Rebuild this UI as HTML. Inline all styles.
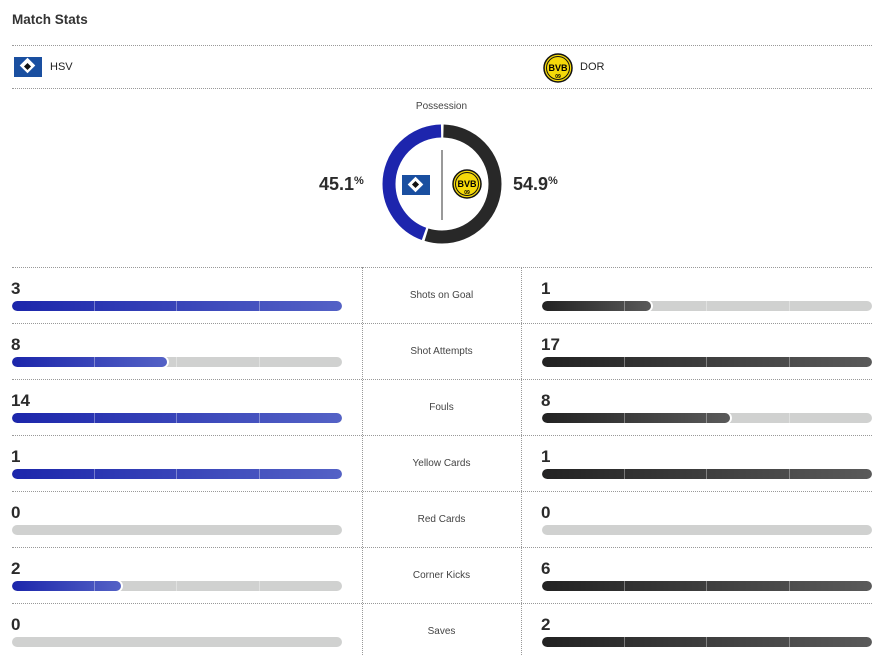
<!DOCTYPE html>
<html><head><meta charset="utf-8"><style>
body{margin:0;width:887px;height:655px;background:#fff;font-family:"Liberation Sans",Arial,sans-serif;color:#2b2b2b;position:relative;overflow:hidden}
.a{position:absolute}
.hl{position:absolute;height:0;border-top:1px dotted #999}
.vl{position:absolute;width:0;border-left:1px dotted #999}
.num{position:absolute;font-size:17px;font-weight:bold;color:#2b2b2b}
.lab{position:absolute;left:362px;width:159px;text-align:center;font-size:10px;color:#444}
.bar{position:absolute;width:330px;height:10px;border-radius:5px;background:#d0d1d0;overflow:hidden}
.fb{position:absolute;left:0;top:0;height:10px;border-radius:5px;background:linear-gradient(90deg,#1c26ab,#5462c6);box-shadow:1px 0 0 1px #fff}
.fd{position:absolute;left:0;top:0;height:10px;border-radius:5px;background:linear-gradient(90deg,#222,#5a5a5a);box-shadow:1px 0 0 1px #fff}
.full{box-shadow:none}
.seg{position:absolute;top:0;width:1px;height:10px;background:rgba(255,255,255,.35)}
</style></head><body>
<div class="a" style="left:12px;top:12px;font-size:13.5px;font-weight:bold;color:#333">Match Stats</div>
<div class="hl" style="left:12px;width:860px;top:45px"></div>
<div class="a" style="left:14px;top:57px;width:28px;height:20px;background:#1a4fa0"></div>
<div class="a" style="left:21px;top:60px;width:11px;height:11px;background:#fff;transform:rotate(45deg);left:22px"></div>
<div class="a" style="left:25px;top:64px;width:5px;height:5px;background:#111;transform:rotate(45deg)"></div>
<div class="a" style="left:50px;top:61px;font-size:11px;color:#222">HSV</div>
<svg class="a" style="left:543px;top:53px" width="30" height="30" viewBox="0 0 30 30"><circle cx="15" cy="15" r="14" fill="#f5d90a" stroke="#111" stroke-width="1.5"/><circle cx="15" cy="15" r="11.5" fill="none" stroke="#111" stroke-width="1"/><text x="15" y="18" font-size="9" font-weight="bold" text-anchor="middle" font-family="Liberation Sans">BVB</text><text x="15" y="25" font-size="5" font-weight="bold" text-anchor="middle" font-family="Liberation Sans">09</text></svg>
<div class="a" style="left:580px;top:61px;font-size:11px;color:#222">DOR</div>
<div class="hl" style="left:12px;width:860px;top:88px"></div>
<div class="a" style="left:362px;width:159px;text-align:center;top:101px;font-size:10px;color:#444">Possession</div>
<svg class="a" style="left:380px;top:122px" width="124" height="124" viewBox="0 0 124 124">
<g transform="rotate(-90 62 62)">
<circle cx="62" cy="62" r="53" fill="none" stroke="#282828" stroke-width="13" stroke-dasharray="180.6 400" stroke-dashoffset="-1.5"/>
<circle cx="62" cy="62" r="53" fill="none" stroke="#1d25ad" stroke-width="13" stroke-dasharray="147 400" stroke-dashoffset="-184.7"/>
</g>
<line x1="62" y1="28" x2="62" y2="98" stroke="#333" stroke-width="1"/>
</svg>
<div class="a" style="left:402px;top:175px;width:28px;height:20px;background:#1a4fa0"></div>
<div class="a" style="left:410px;top:179px;width:11px;height:11px;background:#fff;transform:rotate(45deg)"></div>
<div class="a" style="left:413px;top:182px;width:5px;height:5px;background:#111;transform:rotate(45deg)"></div>
<svg class="a" style="left:452px;top:169px" width="30" height="30" viewBox="0 0 30 30"><circle cx="15" cy="15" r="14" fill="#f5d90a" stroke="#111" stroke-width="1.5"/><circle cx="15" cy="15" r="11.5" fill="none" stroke="#111" stroke-width="1"/><text x="15" y="18" font-size="9" font-weight="bold" text-anchor="middle" font-family="Liberation Sans">BVB</text><text x="15" y="25" font-size="5" font-weight="bold" text-anchor="middle" font-family="Liberation Sans">09</text></svg>
<div class="a" style="left:319px;top:174px;font-size:18px;font-weight:bold;color:#2b2b2b">45.1<span style="font-size:11px;vertical-align:6px">%</span></div>
<div class="a" style="left:513px;top:174px;font-size:18px;font-weight:bold;color:#2b2b2b">54.9<span style="font-size:11px;vertical-align:6px">%</span></div>

<div class="hl" style="left:12px;width:860px;top:267px"></div>
<div class="hl" style="left:12px;width:860px;top:323px"></div>
<div class="hl" style="left:12px;width:860px;top:379px"></div>
<div class="hl" style="left:12px;width:860px;top:435px"></div>
<div class="hl" style="left:12px;width:860px;top:491px"></div>
<div class="hl" style="left:12px;width:860px;top:547px"></div>
<div class="hl" style="left:12px;width:860px;top:603px"></div>
<div class="vl" style="left:362px;top:267px;height:388px"></div>
<div class="vl" style="left:521px;top:267px;height:388px"></div>

<!-- rows: top = 267 + i*56 -->
<div class="num" style="left:11px;top:279px">3</div><div class="lab" style="top:290px">Shots on Goal</div><div class="num" style="left:541px;top:279px">1</div>
<div class="bar" style="left:12px;top:301px"><div class="fb full" style="width:100%"></div><div class="seg" style="left:82px"></div><div class="seg" style="left:164px"></div><div class="seg" style="left:247px"></div></div>
<div class="bar" style="left:542px;top:301px"><div class="fd" style="width:33%"></div><div class="seg" style="left:82px"></div><div class="seg" style="left:164px"></div><div class="seg" style="left:247px"></div></div>

<div class="num" style="left:11px;top:335px">8</div><div class="lab" style="top:346px">Shot Attempts</div><div class="num" style="left:541px;top:335px">17</div>
<div class="bar" style="left:12px;top:357px"><div class="fb" style="width:47%"></div><div class="seg" style="left:82px"></div><div class="seg" style="left:164px"></div><div class="seg" style="left:247px"></div></div>
<div class="bar" style="left:542px;top:357px"><div class="fd full" style="width:100%"></div><div class="seg" style="left:82px"></div><div class="seg" style="left:164px"></div><div class="seg" style="left:247px"></div></div>

<div class="num" style="left:11px;top:391px">14</div><div class="lab" style="top:402px">Fouls</div><div class="num" style="left:541px;top:391px">8</div>
<div class="bar" style="left:12px;top:413px"><div class="fb full" style="width:100%"></div><div class="seg" style="left:82px"></div><div class="seg" style="left:164px"></div><div class="seg" style="left:247px"></div></div>
<div class="bar" style="left:542px;top:413px"><div class="fd" style="width:57%"></div><div class="seg" style="left:82px"></div><div class="seg" style="left:164px"></div><div class="seg" style="left:247px"></div></div>

<div class="num" style="left:11px;top:447px">1</div><div class="lab" style="top:458px">Yellow Cards</div><div class="num" style="left:541px;top:447px">1</div>
<div class="bar" style="left:12px;top:469px"><div class="fb full" style="width:100%"></div><div class="seg" style="left:82px"></div><div class="seg" style="left:164px"></div><div class="seg" style="left:247px"></div></div>
<div class="bar" style="left:542px;top:469px"><div class="fd full" style="width:100%"></div><div class="seg" style="left:82px"></div><div class="seg" style="left:164px"></div><div class="seg" style="left:247px"></div></div>

<div class="num" style="left:11px;top:503px">0</div><div class="lab" style="top:514px">Red Cards</div><div class="num" style="left:541px;top:503px">0</div>
<div class="bar" style="left:12px;top:525px"></div>
<div class="bar" style="left:542px;top:525px"></div>

<div class="num" style="left:11px;top:559px">2</div><div class="lab" style="top:570px">Corner Kicks</div><div class="num" style="left:541px;top:559px">6</div>
<div class="bar" style="left:12px;top:581px"><div class="fb" style="width:33%"></div><div class="seg" style="left:82px"></div><div class="seg" style="left:164px"></div><div class="seg" style="left:247px"></div></div>
<div class="bar" style="left:542px;top:581px"><div class="fd full" style="width:100%"></div><div class="seg" style="left:82px"></div><div class="seg" style="left:164px"></div><div class="seg" style="left:247px"></div></div>

<div class="num" style="left:11px;top:615px">0</div><div class="lab" style="top:626px">Saves</div><div class="num" style="left:541px;top:615px">2</div>
<div class="bar" style="left:12px;top:637px"></div>
<div class="bar" style="left:542px;top:637px"><div class="fd full" style="width:100%"></div><div class="seg" style="left:82px"></div><div class="seg" style="left:164px"></div><div class="seg" style="left:247px"></div></div>
</body></html>
